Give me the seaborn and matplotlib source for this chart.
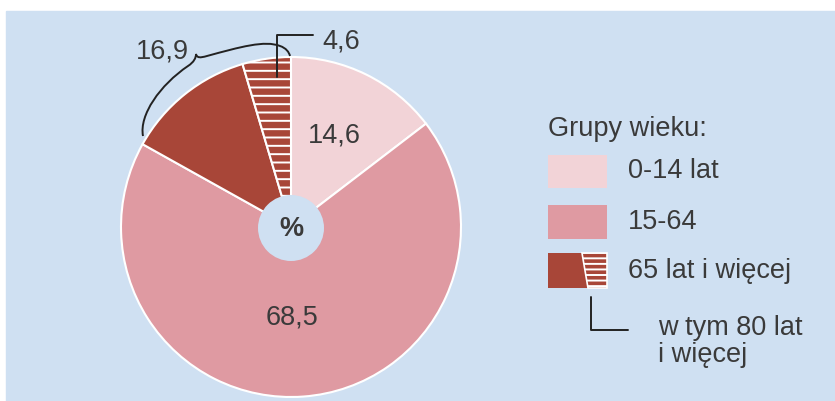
import matplotlib
matplotlib.use("Agg")
import matplotlib.pyplot as plt
import matplotlib.patches as mpatches
from matplotlib.path import Path
import seaborn as sns

# udzial grup wieku w ludnosci, %
groups = ["0-14 lat", "15-64", "65 lat i więcej"]
shares = [14.6, 68.5, 16.9]
share_80plus = 4.6
labels_pl = ["14,6", "68,5", "16,9", "4,6"]

sns.set_style("white")
plt.rcParams['font.family'] = ['Liberation Sans', 'DejaVu Sans']
plt.rcParams['hatch.color'] = 'white'
plt.rcParams['hatch.linewidth'] = 1.4

bg = "#cfe0f2"
pal = sns.color_palette(["#f2d3d7", "#df9aa2", "#a84638", "#a84638"])
txt = "#3a3a3a"
H = 401
fs = 19.5

fig = plt.figure(figsize=(8.35, 4.01), dpi=100)
fig.patch.set_facecolor("white")
ax = fig.add_axes([0, 0, 1, 1])

# tlo
ax.add_patch(mpatches.Rectangle((6, 0), 835, H - 11, color=bg, zorder=0))

vals = [shares[0], shares[1], shares[2] - share_80plus, share_80plus]
cx, cy = 291, H - 227
wedges, _ = ax.pie(vals, colors=pal, startangle=90, counterclock=False,
                   center=(cx, cy), radius=170,
                   wedgeprops=dict(edgecolor="white", linewidth=1.5))
wedges[3].set_hatch("--")
ax.add_patch(mpatches.Circle((cx, cy - 1), 33, facecolor=bg, edgecolor="none", zorder=5))
ax.set_xlim(0, 835)
ax.set_ylim(0, H)
ax.set_aspect("equal")
ax.axis("off")

ax.text(334, H - 135, labels_pl[0], fontsize=fs, color=txt, ha="center", va="center")
ax.text(292, H - 318, labels_pl[1], fontsize=fs, color=txt, ha="center", va="center")
ax.text(162, H - 52, labels_pl[2], fontsize=fs, color=txt, ha="center", va="center")
ax.text(341, H - 41, labels_pl[3], fontsize=fs, color=txt, ha="center", va="center")
ax.text(291, H - 229, "%", fontsize=fs, fontweight="bold", color=txt,
        ha="center", va="center", zorder=6)

# klamra 16,9
pts = [(143, 136), (139, 115), (160, 85), (188, 66),
       (194, 62), (196, 58), (196, 54),
       (197, 58), (200, 58), (207, 56),
       (240, 47), (265, 40), (280, 46),
       (286, 48), (289, 52), (290, 56)]
codes = [Path.MOVETO] + [Path.CURVE4] * 15
brace = Path([(x, H - y) for x, y in pts], codes)
ax.add_patch(mpatches.PathPatch(brace, fill=False, edgecolor="#222222", lw=1.4))
ax.plot([277, 277, 313], [H - 77, H - 35, H - 35], color="#222222", lw=1.4)

# legenda
ax.text(548, H - 129, "Grupy wieku:", fontsize=fs, color=txt, ha="left", va="center")
ys = [(155, 188), (205, 239), (253, 288)]
for i, (y0, y1) in enumerate(ys):
    ax.add_patch(mpatches.Rectangle((548, H - y1), 59, y1 - y0, color=pal[i], lw=0))
    ax.text(628, H - (y0 + y1) / 2, groups[i], fontsize=fs, color=txt, ha="left", va="center")
y0, y1 = ys[2]
ax.add_patch(mpatches.Polygon([(582, H - y0), (607, H - y0), (607, H - y1), (588, H - y1)],
                              facecolor=pal[3], edgecolor="white", lw=1.2, hatch="---"))
ax.plot([591, 591, 628], [H - 297, H - 330, H - 330], color="#222222", lw=1.4)
ax.text(658, H - 328, "w tym 80 lat", fontsize=fs, color=txt, ha="left", va="center")
ax.text(658, H - 355, "i więcej", fontsize=fs, color=txt, ha="left", va="center")

fig.savefig("out.png", dpi=100, facecolor="white")
